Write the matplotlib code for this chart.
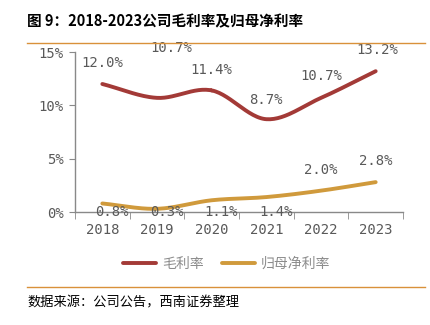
import numpy as np
import matplotlib.pyplot as plt
from matplotlib.lines import Line2D

plt.rcParams['font.family'] = ['DejaVu Sans Mono', 'Noto Sans CJK SC']

years = ['2018', '2019', '2020', '2021', '2022', '2023']
gross = [12.0, 10.7, 11.4, 8.7, 10.7, 13.2]
net = [0.8, 0.3, 1.1, 1.4, 2.0, 2.8]

red = '#A33A37'
orange = '#D09A3C'
grey = '#595959'


def smooth(x, y, n=30):
    # catmull-rom curve through the points, like the office "smoothed line"
    x = np.asarray(x, float)
    y = np.asarray(y, float)
    px = np.concatenate([[2 * x[0] - x[1]], x, [2 * x[-1] - x[-2]]])
    py = np.concatenate([[2 * y[0] - y[1]], y, [2 * y[-1] - y[-2]]])
    xs, ys = [], []
    t = np.linspace(0, 1, n)
    for i in range(1, len(px) - 2):
        for p, out in ((px, xs), (py, ys)):
            p0, p1, p2, p3 = p[i - 1], p[i], p[i + 1], p[i + 2]
            out.extend(0.5 * ((2 * p1) + (-p0 + p2) * t
                              + (2 * p0 - 5 * p1 + 4 * p2 - p3) * t ** 2
                              + (-p0 + 3 * p1 - 3 * p2 + p3) * t ** 3))
    return np.array(xs), np.array(ys)


fig = plt.figure(figsize=(4.3, 3.25), dpi=100)
ax = fig.add_axes([75 / 430, 113 / 325, 328 / 430, 160 / 325])

x = np.arange(len(years))
sx, sy = smooth(x, gross)
ax.plot(sx, sy, color=red, lw=2.8, solid_capstyle='round', label='毛利率')
sx, sy = smooth(x, net)
ax.plot(sx, sy, color=orange, lw=2.8, solid_capstyle='round', label='归母净利率')

# label offsets in points (dx, dy)
g_off = [(0, 15), (10, 36), (0, 15), (0, 14), (0, 16), (1, 15)]
for i, v in enumerate(gross):
    ax.annotate(f'{v:.1f}%', (x[i], v), xytext=g_off[i], textcoords='offset points',
                ha='center', va='center', fontsize=10, color=grey)
for i, v in enumerate(net):
    if i < 4:
        ax.annotate(f'{v:.1f}%', (x[i], 0), xytext=(7, 0), textcoords='offset points',
                    ha='center', va='center', fontsize=10, color=grey)
    else:
        ax.annotate(f'{v:.1f}%', (x[i], v), xytext=(0, 15), textcoords='offset points',
                    ha='center', va='center', fontsize=10, color=grey)

ax.set_xlim(-0.5, len(years) - 0.5)
ax.set_ylim(0, 15)
ax.set_yticks([0, 5, 10, 15])
ax.set_yticklabels(['0%', '5%', '10%', '15%'])
ax.set_xticks(x)
ax.set_xticklabels(years)
ax.set_xticks(np.arange(-0.5, len(years)), minor=True)
ax.tick_params(axis='x', which='major', length=0, pad=8, labelsize=10, labelcolor=grey)
ax.tick_params(axis='x', which='minor', length=5, color='#898989', direction='out')
ax.tick_params(axis='y', length=4, color='#898989', labelsize=10, labelcolor=grey, pad=4)
for s in ['top', 'right']:
    ax.spines[s].set_visible(False)
for s in ['left', 'bottom']:
    ax.spines[s].set_color('#898989')
    ax.spines[s].set_linewidth(1)

leg = ax.legend(loc='upper center', bbox_to_anchor=(0.462, -0.2), ncol=2, frameon=False,
                handlelength=2.4, columnspacing=1.3, handletextpad=0.4,
                prop={'family': ['Noto Sans CJK SC'], 'size': 10})
for t in leg.get_texts():
    t.set_color('#8C8C8C')

fig.text(27 / 430, 1 - 21 / 325, '图 9：2018-2023公司毛利率及归母净利率', fontsize=10.5,
         fontweight='bold', va='center', ha='left', family=['Noto Sans CJK SC'])
fig.add_artist(Line2D([27 / 430, 425 / 430], [1 - 43 / 325] * 2, color='#D9913A', lw=1))
fig.add_artist(Line2D([27 / 430, 425 / 430], [1 - 287 / 325] * 2, color='#D9913A', lw=1))
fig.text(27 / 430, 1 - 303 / 325, '数据来源：公司公告，西南证券整理', fontsize=9.5,
         style='italic', va='center', ha='left', family=['Noto Sans CJK SC'])

fig.savefig('out.png', dpi=100)
